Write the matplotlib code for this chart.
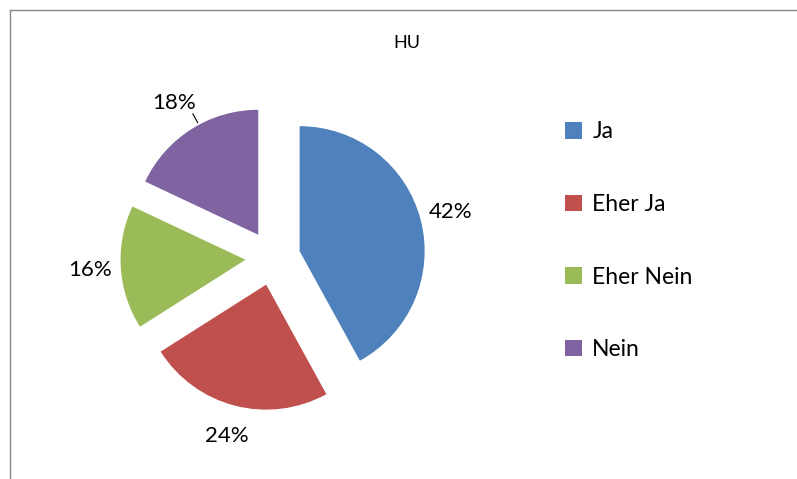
import numpy as np
import matplotlib
matplotlib.use("Agg")
import matplotlib.pyplot as plt
from matplotlib.lines import Line2D

# ── data ────────────────────────────────────────────────────────────────────
title = "HU"
labels = ["Ja", "Eher Ja", "Eher Nein", "Nein"]
values = [42, 24, 16, 18]
colors = ["#4F81BD", "#C0504D", "#9BBB59", "#8064A2"]

plt.rcParams["font.family"] = ["Lato", "DejaVu Sans"]

W, H = 797, 479
fig = plt.figure(figsize=(W / 100, H / 100), dpi=100)
ax = fig.add_axes([0, 0, 1, 1])

# pie laid out in pixel units (1 data unit = 1 px); explode is absolute here
cx, cy, r = 273, H - 258, 125
explode = [0.22 * r] * len(values)
wedges, texts, autotexts = ax.pie(
    values, colors=colors, explode=explode, startangle=90, counterclock=False,
    center=(cx, cy), radius=r, frame=True,
    autopct="%1.0f%%",
    textprops=dict(fontsize=16, color="black"),
    wedgeprops=dict(linewidth=0),
)
# put the percentage labels just outside each exploded wedge
for w, t in zip(wedges, autotexts):
    ang = np.deg2rad((w.theta1 + w.theta2) / 2)
    wx, wy = w.center
    t.set_position((wx + 1.25 * r * np.cos(ang), wy + 1.25 * r * np.sin(ang)))
    t.set_ha("center")
    t.set_va("center")

# small leader line for the "Nein" label
w = wedges[3]
ang = np.deg2rad((w.theta1 + w.theta2) / 2 - 4)
wx, wy = w.center
ax.plot([wx + 1.02 * r * np.cos(ang), wx + 1.1 * r * np.cos(ang)],
        [wy + 1.02 * r * np.sin(ang), wy + 1.1 * r * np.sin(ang)],
        color="black", linewidth=0.8)

ax.set_xlim(0, W)
ax.set_ylim(0, H)
ax.set_aspect("equal")
ax.axis("off")

fig.text(407 / W, 1 - 43 / H, title, ha="center", va="center", fontsize=13)

leg = ax.legend(wedges, labels, loc="upper left",
                bbox_to_anchor=(554 / W, 1 - 110 / H), frameon=False,
                fontsize=16.5, handlelength=0.72, handleheight=0.72,
                handletextpad=0.45, labelspacing=2.25, borderpad=0)

# chart border (top and left edges visible)
fig.add_artist(Line2D([9.5 / W, 9.5 / W], [0, 1 - 10 / H], color="#888888", linewidth=1))
fig.add_artist(Line2D([9.5 / W, 1], [1 - 10 / H, 1 - 10 / H], color="#888888", linewidth=1))

fig.savefig("out.png", dpi=100)
